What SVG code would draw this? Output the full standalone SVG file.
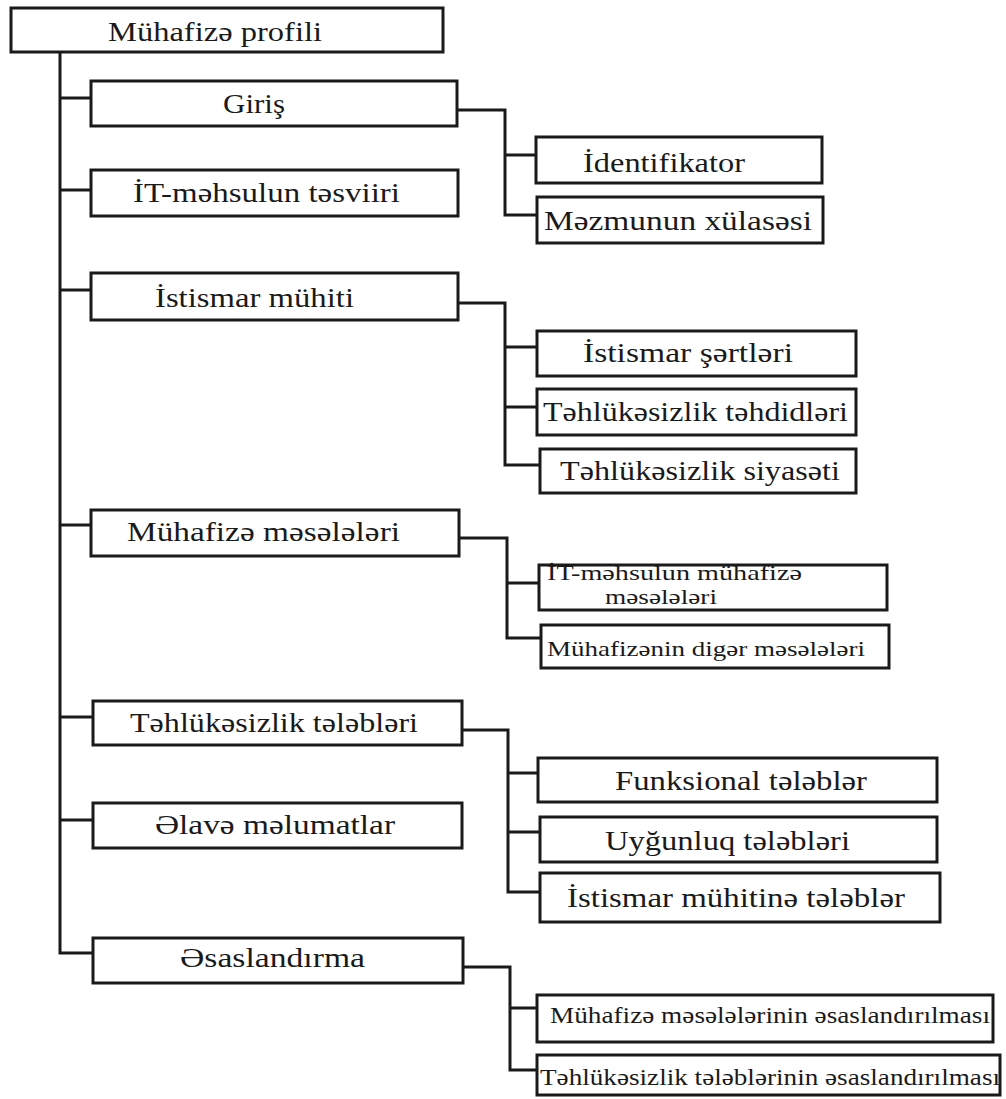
<svg xmlns="http://www.w3.org/2000/svg" width="1006" height="1099" viewBox="0 0 1006 1099">
<style>
.box{fill:#fff;stroke:#1a1a1a;stroke-width:3}
.t{font-family:"Liberation Serif","DejaVu Serif",serif;fill:#1a1a1a;font-size:28px}
.s{font-size:21px}
.m{font-size:24px}
.c{fill:none;stroke:#1a1a1a;stroke-width:3}
</style>
<rect width="1006" height="1099" fill="#fff"/>
<g id="connectors" class="c">
<path d="M60 52V953H93"/>
<path d="M60 98H91M60 190H91M60 290H91M60 525H91M60 717H93M60 820H93"/>
<path d="M457 110H505V215H537M505 155H536"/>
<path d="M458 303H505V465H540M505 347H537M505 407H537"/>
<path d="M459 538H507V638H541M507 583H539"/>
<path d="M462 730H508V892H540M508 773H538M508 832H540"/>
<path d="M463 967H510V1070H537M510 1008H537"/>
</g>
<g id="n-root"><rect class="box" x="11" y="8" width="432" height="44"/><text class="t" x="108" y="41" textLength="214" lengthAdjust="spacingAndGlyphs">Mühafizə profili</text></g>
<g id="n-giris"><rect class="box" x="91" y="81" width="366" height="45"/><text class="t" x="223" y="113" textLength="62" lengthAdjust="spacingAndGlyphs">Giriş</text></g>
<g id="n-tesvir"><rect class="box" x="91" y="170" width="367" height="46"/><text class="t" x="133" y="202" textLength="267" lengthAdjust="spacingAndGlyphs">İT-məhsulun təsviiri</text></g>
<g id="n-ident"><rect class="box" x="536" y="137" width="286" height="46"/><text class="t" x="583" y="172" textLength="162" lengthAdjust="spacingAndGlyphs">İdentifikator</text></g>
<g id="n-mezmun"><rect class="box" x="537" y="197" width="286" height="46"/><text class="t" x="544" y="230" textLength="268" lengthAdjust="spacingAndGlyphs">Məzmunun xülasəsi</text></g>
<g id="n-istismar"><rect class="box" x="91" y="273" width="367" height="47"/><text class="t" x="155" y="307" textLength="199" lengthAdjust="spacingAndGlyphs">İstismar mühiti</text></g>
<g id="n-sertler"><rect class="box" x="537" y="331" width="319" height="45"/><text class="t" x="583" y="362" textLength="210" lengthAdjust="spacingAndGlyphs">İstismar şərtləri</text></g>
<g id="n-tehdid"><rect class="box" x="537" y="389" width="319" height="46"/><text class="t" x="543" y="421" textLength="305" lengthAdjust="spacingAndGlyphs">Təhlükəsizlik təhdidləri</text></g>
<g id="n-siyaset"><rect class="box" x="540" y="449" width="316" height="44"/><text class="t" x="560" y="480" textLength="280" lengthAdjust="spacingAndGlyphs">Təhlükəsizlik siyasəti</text></g>
<g id="n-meseleler"><rect class="box" x="91" y="510" width="368" height="46"/><text class="t" x="127" y="541" textLength="273" lengthAdjust="spacingAndGlyphs">Mühafizə məsələləri</text></g>
<g id="n-itmes"><rect class="box" x="539" y="565" width="348" height="45"/><text class="t s" x="547" y="580" textLength="255" lengthAdjust="spacingAndGlyphs">İT-məhsulun mühafizə</text><text class="t s" x="605" y="604" textLength="112" lengthAdjust="spacingAndGlyphs">məsələləri</text></g>
<g id="n-diger"><rect class="box" x="541" y="625" width="348" height="43"/><text class="t s" x="547" y="656" textLength="318" lengthAdjust="spacingAndGlyphs">Mühafizənin digər məsələləri</text></g>
<g id="n-teleb"><rect class="box" x="93" y="701" width="369" height="44"/><text class="t" x="130" y="732" textLength="288" lengthAdjust="spacingAndGlyphs">Təhlükəsizlik tələbləri</text></g>
<g id="n-elave"><rect class="box" x="93" y="803" width="369" height="45"/><text class="t" x="155" y="834" textLength="240" lengthAdjust="spacingAndGlyphs">Əlavə məlumatlar</text></g>
<g id="n-esas"><rect class="box" x="93" y="938" width="370" height="45"/><text class="t" x="180" y="967" textLength="185" lengthAdjust="spacingAndGlyphs">Əsaslandırma</text></g>
<g id="n-funk"><rect class="box" x="538" y="758" width="399" height="44"/><text class="t" x="615" y="790" textLength="252" lengthAdjust="spacingAndGlyphs">Funksional tələblər</text></g>
<g id="n-uygun"><rect class="box" x="540" y="817" width="397" height="45"/><text class="t" x="605" y="850" textLength="245" lengthAdjust="spacingAndGlyphs">Uyğunluq tələbləri</text></g>
<g id="n-muhit"><rect class="box" x="540" y="873" width="400" height="49"/><text class="t" x="567" y="907" textLength="338" lengthAdjust="spacingAndGlyphs">İstismar mühitinə tələblər</text></g>
<g id="n-esas1"><rect class="box" x="537" y="995" width="456" height="47"/><text class="t m" x="550" y="1023" textLength="440" lengthAdjust="spacingAndGlyphs">Mühafizə məsələlərinin əsaslandırılması</text></g>
<g id="n-esas2"><rect class="box" x="537" y="1055" width="463" height="40"/><text class="t m" x="540" y="1085" textLength="460" lengthAdjust="spacingAndGlyphs">Təhlükəsizlik tələblərinin əsaslandırılması</text></g>
</svg>
